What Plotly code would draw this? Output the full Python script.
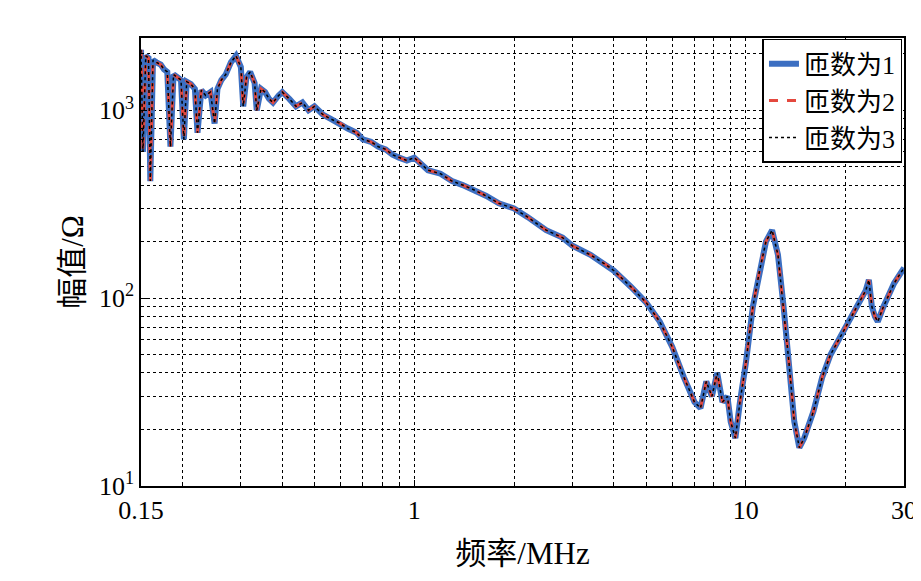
import plotly.graph_objects as go

freq = [0.150,0.152,0.155,0.158,0.160,0.163,0.167,0.172,0.176,0.180,0.184,0.188,0.193,0.198,0.202,0.206,0.212,0.218,0.222,0.228,0.235,0.243,0.250,0.255,0.262,0.270,0.280,0.290,0.300,0.305,0.312,0.320,0.330,0.335,0.345,0.355,0.365,0.375,0.390,0.400,0.420,0.440,0.460,0.480,0.500,0.530,0.560,0.600,0.630,0.670,0.700,0.740,0.780,0.820,0.860,0.900,0.950,1.00,1.05,1.10,1.20,1.30,1.40,1.50,1.65,1.80,2.00,2.20,2.50,2.80,3.00,3.40,3.80,4.00,4.50,5.00,5.50,6.00,6.50,7.00,7.30,7.60,7.90,8.20,8.50,8.80,9.00,9.30,9.60,10.0,10.5,11.0,11.5,12.0,12.5,13.0,13.5,14.0,14.5,15.0,16.0,17.0,18.0,20.0,22.0,23.0,23.5,24.0,24.5,25.0,26.0,27.0,28.0,30.0]
mag1 = [2100,600,1950,1900,420,1850,1800,1750,1650,1600,640,1550,1500,1450,700,1420,1380,1300,760,1280,1200,1250,850,1300,1450,1550,1800,1950,1700,1050,1500,1600,1400,1000,1300,1250,1150,1100,1200,1250,1150,1050,1100,1000,1050,950,900,850,800,760,700,680,640,620,580,560,540,560,520,480,460,420,400,380,350,320,300,270,230,210,190,170,150,140,115,95,75,55,38,28,26,36,30,40,28,30,22,18,28,45,90,140,200,230,170,90,45,22,16,18,25,38,50,70,95,110,125,90,80,75,90,105,120,145]
x_minor = [0.2,0.3,0.4,0.5,0.6,0.7,0.8,0.9,2,3,4,5,6,7,8,9,20]
y_minor = [20,30,40,50,60,70,80,90,200,300,400,500,600,700,800,900,2000]

fig = go.Figure()
fig.add_trace(go.Scatter(x=freq, y=mag1, mode="lines", name="匝数为1",
                         line=dict(color="#3c6fc2", width=6)))
fig.add_trace(go.Scatter(x=freq, y=mag1, mode="lines", name="匝数为2",
                         line=dict(color="#e4483e", width=3, dash="dash")))
fig.add_trace(go.Scatter(x=freq, y=mag1, mode="lines", name="匝数为3",
                         line=dict(color="black", width=1.5, dash="dot")))

font = "Liberation Serif, Noto Sans CJK SC"
def ax(minor_vals):
    return dict(showgrid=True, gridcolor="black", griddash="dot", gridwidth=1,
                minor=dict(tickvals=minor_vals, showgrid=True, gridcolor="black",
                           griddash="dot", gridwidth=0.8, ticks="inside", ticklen=3),
                showline=True, linecolor="black", linewidth=1.5, mirror=True,
                ticks="inside", ticklen=6, tickcolor="black")
fig.update_xaxes(type="log", range=[-0.824, 1.477], tickvals=[0.15, 1, 10, 30],
                 ticktext=["0.15", "1", "10", "30"], title=dict(text="频率/MHz", standoff=18), **ax(x_minor))
fig.update_yaxes(type="log", range=[1, 3.385], tickvals=[10, 100, 1000],
                 ticktext=["10<sup>1</sup>", "10<sup>2</sup>", "10<sup>3</sup>"],
                 title=dict(text="幅值/Ω", standoff=6), **ax(y_minor))
fig.update_layout(
    width=921, height=581, plot_bgcolor="white", paper_bgcolor="white",
    margin=dict(l=133, r=16, t=30, b=103),
    font=dict(family=font, size=26, color="black"),
    legend=dict(x=0.998, y=0.998, xanchor="right", yanchor="top", bgcolor="white",
                bordercolor="black", borderwidth=1.5, font=dict(size=26)),
    showlegend=True)
fig.write_html("out.html")
